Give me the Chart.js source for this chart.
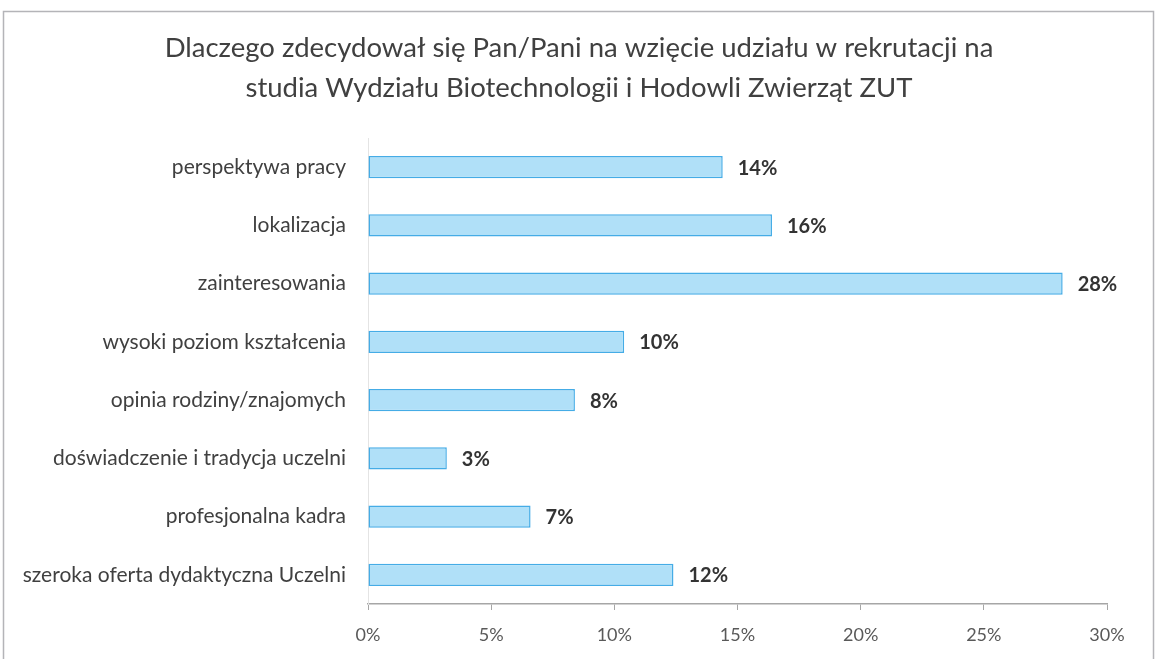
<!DOCTYPE html>
<html>
<head>
<meta charset="utf-8">
<script src="https://cdn.jsdelivr.net/npm/chart.js@4/dist/chart.umd.min.js"></script>
<style>
  html, body { margin: 0; padding: 0; background: #ffffff; }
  #wrap { width: 1157px; height: 659px; position: relative; }
</style>
</head>
<body>
<div id="wrap"><canvas id="c" width="1157" height="659"></canvas></div>
<script>
const titleLines = [
  "Dlaczego zdecydował się Pan/Pani na wzięcie udziału w rekrutacji na",
  "studia Wydziału Biotechnologii i Hodowli Zwierząt ZUT"
];
const categories = [
  "perspektywa pracy",
  "lokalizacja",
  "zainteresowania",
  "wysoki poziom kształcenia",
  "opinia rodziny/znajomych",
  "doświadczenie i tradycja uczelni",
  "profesjonalna kadra",
  "szeroka oferta dydaktyczna Uczelni"
];
const values = [14.4, 16.4, 28.2, 10.4, 8.4, 3.2, 6.6, 12.4];
const valueLabels = ["14%", "16%", "28%", "10%", "8%", "3%", "7%", "12%"];
const xTicks = [0, 5, 10, 15, 20, 25, 30];

const FONT = "Lato, 'Open Sans', sans-serif";

const frame = {
  id: 'frame',
  beforeDraw(chart) {
    const ctx = chart.ctx;
    ctx.save();
    ctx.fillStyle = '#ffffff';
    ctx.fillRect(0, 0, chart.width, chart.height);
    ctx.strokeStyle = '#b4b4b8';
    ctx.lineWidth = 1.5;
    ctx.strokeRect(3.5, 11.5, 1150, 660);
    ctx.fillStyle = '#404040';
    ctx.font = "27.5px " + FONT;
    ctx.textAlign = 'center';
    ctx.textBaseline = 'middle';
    ctx.fillText(titleLines[0], 579, 48);
    ctx.fillText(titleLines[1], 579, 88);
    ctx.restore();
  }
};

const valueLabelPlugin = {
  id: 'valueLabels',
  afterDatasetsDraw(chart) {
    const ctx = chart.ctx;
    const meta = chart.getDatasetMeta(0);
    ctx.save();
    ctx.font = "bold 20px " + FONT;
    ctx.fillStyle = '#333333';
    ctx.textAlign = 'left';
    ctx.textBaseline = 'middle';
    meta.data.forEach((bar, i) => {
      ctx.fillText(valueLabels[i], bar.x + 15, bar.y + 1);
    });
    ctx.restore();
  }
};

new Chart(document.getElementById('c'), {
  type: 'bar',
  data: {
    labels: categories,
    datasets: [{
      data: values,
      backgroundColor: '#b0e0f8',
      borderColor: '#45ace6',
      borderWidth: 1.5,
      borderSkipped: false,
      categoryPercentage: 1.0,
      barPercentage: 0.38
    }]
  },
  options: {
    indexAxis: 'y',
    responsive: false,
    animation: false,
    devicePixelRatio: 1,
    layout: { padding: { top: 138, left: 3, right: 50, bottom: 0 } },
    plugins: {
      legend: { display: false },
      tooltip: { enabled: false },
      title: { display: false }
    },
    scales: {
      x: {
        min: 0,
        max: 30,
        afterBuildTicks(scale) { scale.ticks = xTicks.map(v => ({ value: v })); },
        afterFit(scale) { scale.height = 55; },
        ticks: {
          callback: v => v + '%',
          color: '#595959',
          font: { family: FONT, size: 18 },
          padding: 14,
          maxRotation: 0
        },
        grid: { drawOnChartArea: false, drawTicks: true, tickLength: 6, color: '#a6a6a6' },
        border: { display: true, color: '#a6a6a6', width: 1.5 }
      },
      y: {
        afterFit(scale) { scale.width = 365; },
        ticks: {
          color: '#404040',
          font: { family: FONT, size: 21 },
          padding: 22
        },
        grid: { display: false, drawTicks: false },
        border: { display: true, color: '#e4e4e4', width: 1 }
      }
    }
  },
  plugins: [frame, valueLabelPlugin]
});
</script>
</body>
</html>
